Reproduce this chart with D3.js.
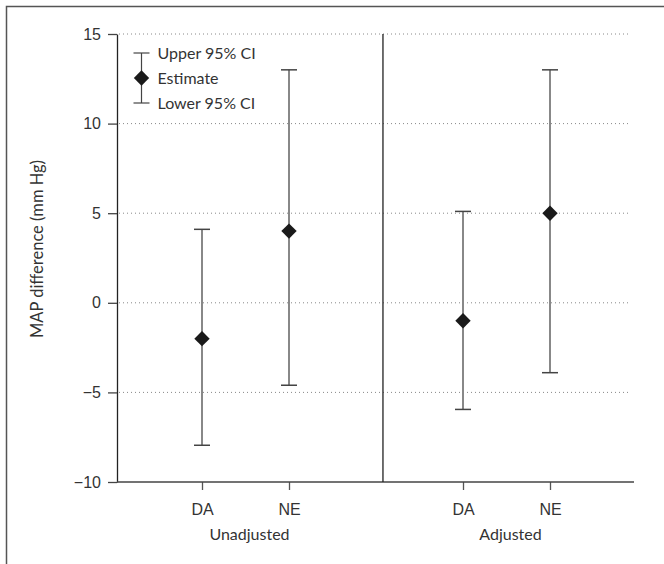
<!DOCTYPE html>
<html>
<head>
<meta charset="utf-8">
<script src="https://cdn.jsdelivr.net/npm/d3@7"></script>
<style>
  body { margin: 0; background: #fff; }
  svg { display: block; font-family: Lato, "Noto Sans", sans-serif; }
  .tick text { fill: #333; font-size: 16px; }
</style>
</head>
<body>
<svg id="svg" width="664" height="564"></svg>
<script>
// categories and values
var groups = ["Unadjusted", "Adjusted"];
var categories = ["DA", "NE", "DA", "NE"];
var catGroup = [0, 0, 1, 1];
var catPos = [1, 2, 4, 5];
var estimate = [-2, 4, -1, 5];
var upperCI = [4.1, 13, 5.1, 13];
var lowerCI = [-7.95, -4.6, -5.95, -3.9];
var yTicks = [-10, -5, 0, 5, 10, 15];
var legendLabels = ["Upper 95% CI", "Estimate", "Lower 95% CI"];

var svg = d3.select("#svg");

var x = d3.scaleLinear().domain([0, 6]).range([115, 637]);
var y = d3.scaleLinear().domain([-10, 15]).range([482, 34]);
var x0 = 117, x1 = 634;
var dividerAt = 3.08;

// outer frame (left and top edges visible)
svg.append("path")
  .attr("d", "M6.5,564V6.5H664")
  .attr("fill", "none")
  .attr("stroke", "#555")
  .attr("stroke-width", 1.5);

// dotted grid
svg.append("g").selectAll("line")
  .data(yTicks.filter(function(d) { return d > -10; }))
  .enter().append("line")
  .attr("x1", x0 + 2).attr("x2", 631)
  .attr("y1", function(d) { return y(d); })
  .attr("y2", function(d) { return y(d); })
  .attr("stroke", "#888")
  .attr("stroke-width", 1)
  .attr("stroke-dasharray", "1,3");

// y axis
var yAxis = svg.append("g")
  .attr("transform", "translate(" + x0 + ",0)")
  .call(d3.axisLeft(y).tickValues(yTicks).tickSize(9).tickSizeOuter(0).tickPadding(7)
    .tickFormat(function(d) { return d < 0 ? "\u2212" + Math.abs(d) : d; }));
yAxis.select(".domain").attr("stroke", "#222").attr("stroke-width", 1.3);
yAxis.selectAll(".tick line").attr("stroke", "#444").attr("stroke-width", 1.3);

// x axis
var xAxis = svg.append("g")
  .attr("transform", "translate(0," + y(-10) + ")")
  .call(d3.axisBottom(x).tickValues(catPos).tickSize(8).tickPadding(14)
    .tickFormat(function(d, i) { return categories[i]; }));
xAxis.select(".domain").remove();
xAxis.selectAll(".tick line").attr("stroke", "#555").attr("stroke-width", 1.3);
xAxis.append("line")
  .attr("x1", x0).attr("x2", x1)
  .attr("stroke", "#444").attr("stroke-width", 1.5);

// group labels
svg.append("g").selectAll("text")
  .data(groups)
  .enter().append("text")
  .attr("x", function(d, i) {
    var p = catPos.filter(function(c, j) { return catGroup[j] === i; });
    return x(d3.mean(p)) + 4;
  })
  .attr("y", 540)
  .attr("text-anchor", "middle")
  .attr("fill", "#333")
  .attr("font-size", 16)
  .text(function(d) { return d; });

// divider between panels
svg.append("line")
  .attr("x1", x(dividerAt)).attr("x2", x(dividerAt))
  .attr("y1", y(15)).attr("y2", y(-10))
  .attr("stroke", "#222").attr("stroke-width", 1.3);

// y axis title
svg.append("text")
  .attr("transform", "translate(43,249) rotate(-90)")
  .attr("text-anchor", "middle")
  .attr("fill", "#333")
  .attr("font-size", 16.5)
  .text("MAP difference (mm Hg)");

// error bars
var capW = 8;
var bars = svg.append("g").selectAll("g")
  .data(catPos)
  .enter().append("g");

bars.append("line")
  .attr("x1", function(d) { return x(d); })
  .attr("x2", function(d) { return x(d); })
  .attr("y1", function(d, i) { return y(upperCI[i]); })
  .attr("y2", function(d, i) { return y(lowerCI[i]); })
  .attr("stroke", "#888").attr("stroke-width", 2);

[upperCI, lowerCI].forEach(function(arr) {
  bars.append("line")
    .attr("x1", function(d) { return x(d) - capW; })
    .attr("x2", function(d) { return x(d) + capW; })
    .attr("y1", function(d, i) { return y(arr[i]); })
    .attr("y2", function(d, i) { return y(arr[i]); })
    .attr("stroke", "#444").attr("stroke-width", 1.5);
});

var diamond = d3.symbol().type(d3.symbolSquare).size(118);
bars.append("path")
  .attr("d", diamond)
  .attr("transform", function(d, i) {
    return "translate(" + x(d) + "," + y(estimate[i]) + ") rotate(45)";
  })
  .attr("fill", "#1a1a1a");

// legend
var lg = svg.append("g").attr("transform", "translate(141.5,0)");
var lgY = [53, 78, 103];
lg.append("line").attr("x1", 0).attr("x2", 0).attr("y1", lgY[0]).attr("y2", lgY[2])
  .attr("stroke", "#444").attr("stroke-width", 1.2);
[lgY[0], lgY[2]].forEach(function(v) {
  lg.append("line").attr("x1", -capW).attr("x2", capW).attr("y1", v).attr("y2", v)
    .attr("stroke", "#444").attr("stroke-width", 1.2);
});
lg.append("path").attr("d", diamond)
  .attr("transform", "translate(0," + lgY[1] + ") rotate(45)")
  .attr("fill", "#1a1a1a");
lg.selectAll("text.lab")
  .data(legendLabels)
  .enter().append("text")
  .attr("class", "lab")
  .attr("x", 16)
  .attr("y", function(d, i) { return lgY[i]; })
  .attr("dy", "0.35em")
  .attr("fill", "#333")
  .attr("font-size", 16)
  .text(function(d) { return d; });
</script>
</body>
</html>
